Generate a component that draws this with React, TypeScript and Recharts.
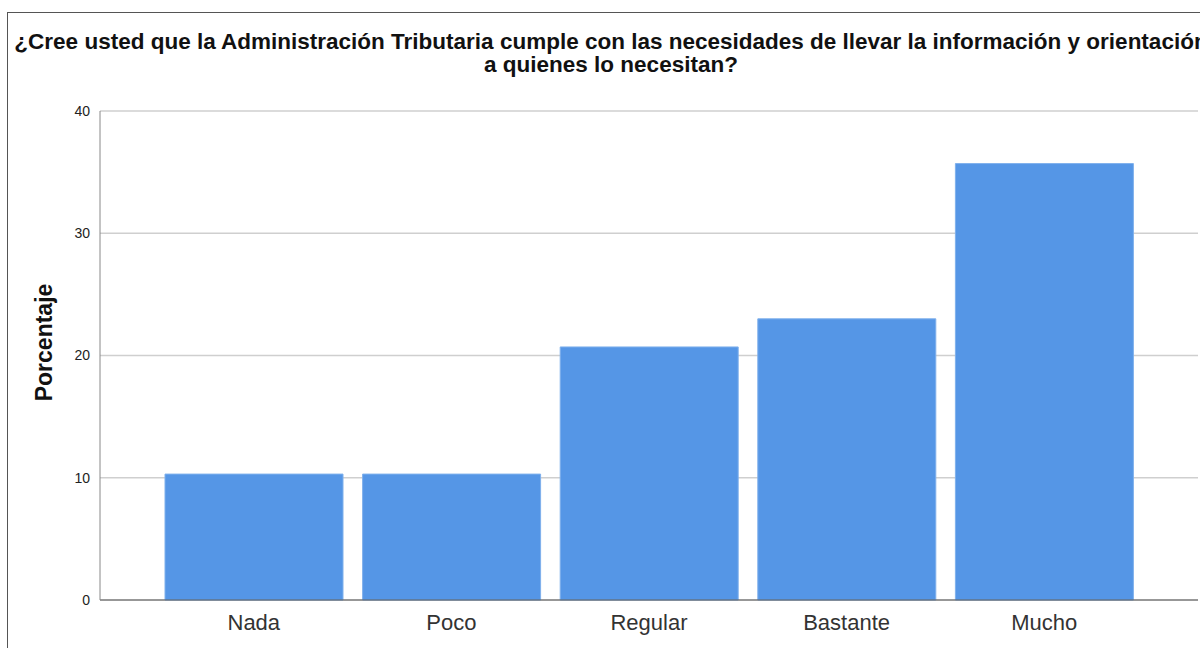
import React from 'react';
import { BarChart, Bar, XAxis, YAxis, CartesianGrid } from 'recharts';

const CATEGORIES = ['Nada', 'Poco', 'Regular', 'Bastante', 'Mucho'];
const PERCENTS = [10.3, 10.3, 20.7, 23.0, 35.7];
const Y_TICKS = [0, 10, 20, 30, 40];

const TITLE_1 = '¿Cree usted que la Administración Tributaria cumple con las necesidades de llevar la información y orientación';
const TITLE_2 = 'a quienes lo necesitan?';

const data = CATEGORIES.map((name, i) => ({ name, value: PERCENTS[i] }));

const FONT = '"Liberation Sans", Arial, sans-serif';

export default function App() {
  return (
    <div style={{ position: 'absolute', left: 0, top: 0, width: 1200, height: 648, overflow: 'hidden', background: '#fff', fontFamily: FONT }}>
      {/* outer frame, runs past the right and bottom edges */}
      <div style={{ position: 'absolute', left: 7, top: 12, width: 1400, height: 800, border: '1px solid #555' }} />
      <div style={{ position: 'absolute', left: 611, top: 30, transform: 'translateX(-50%)', whiteSpace: 'nowrap', textAlign: 'center', fontWeight: 'bold', fontSize: 22.5, lineHeight: '23px', color: '#111' }}>
        <div>{TITLE_1}</div>
        <div>{TITLE_2}</div>
      </div>
      <div style={{ position: 'absolute', left: 0, top: 0 }}>
        <BarChart width={1200} height={648} data={data} margin={{ top: 111, right: 2, bottom: 8, left: 0 }} barCategoryGap={10}>
          <CartesianGrid vertical={false} stroke="#cfcfcf" strokeWidth={1.5} />
          <XAxis
            dataKey="name"
            height={40}
            padding={{ left: 55, right: 55 }}
            tickLine={false}
            axisLine={{ stroke: '#555' }}
            tick={{ fill: '#333', fontSize: 22, fontFamily: FONT }}
            tickMargin={8}
          />
          <YAxis
            width={100}
            domain={[0, 40]}
            ticks={Y_TICKS}
            tickLine={false}
            axisLine={{ stroke: '#888' }}
            tick={{ fill: '#222', fontSize: 14, fontFamily: FONT }}
            tickMargin={4}
            label={{ value: 'Porcentaje', angle: -90, position: 'center', dx: -6, dy: -13, style: { fontWeight: 'bold', fontSize: 23, fill: '#111', fontFamily: FONT } }}
          />
          <Bar dataKey="value" fill="#5596E6" stroke="#7fb0ec" strokeWidth={1} isAnimationActive={false} />
        </BarChart>
      </div>
    </div>
  );
}
